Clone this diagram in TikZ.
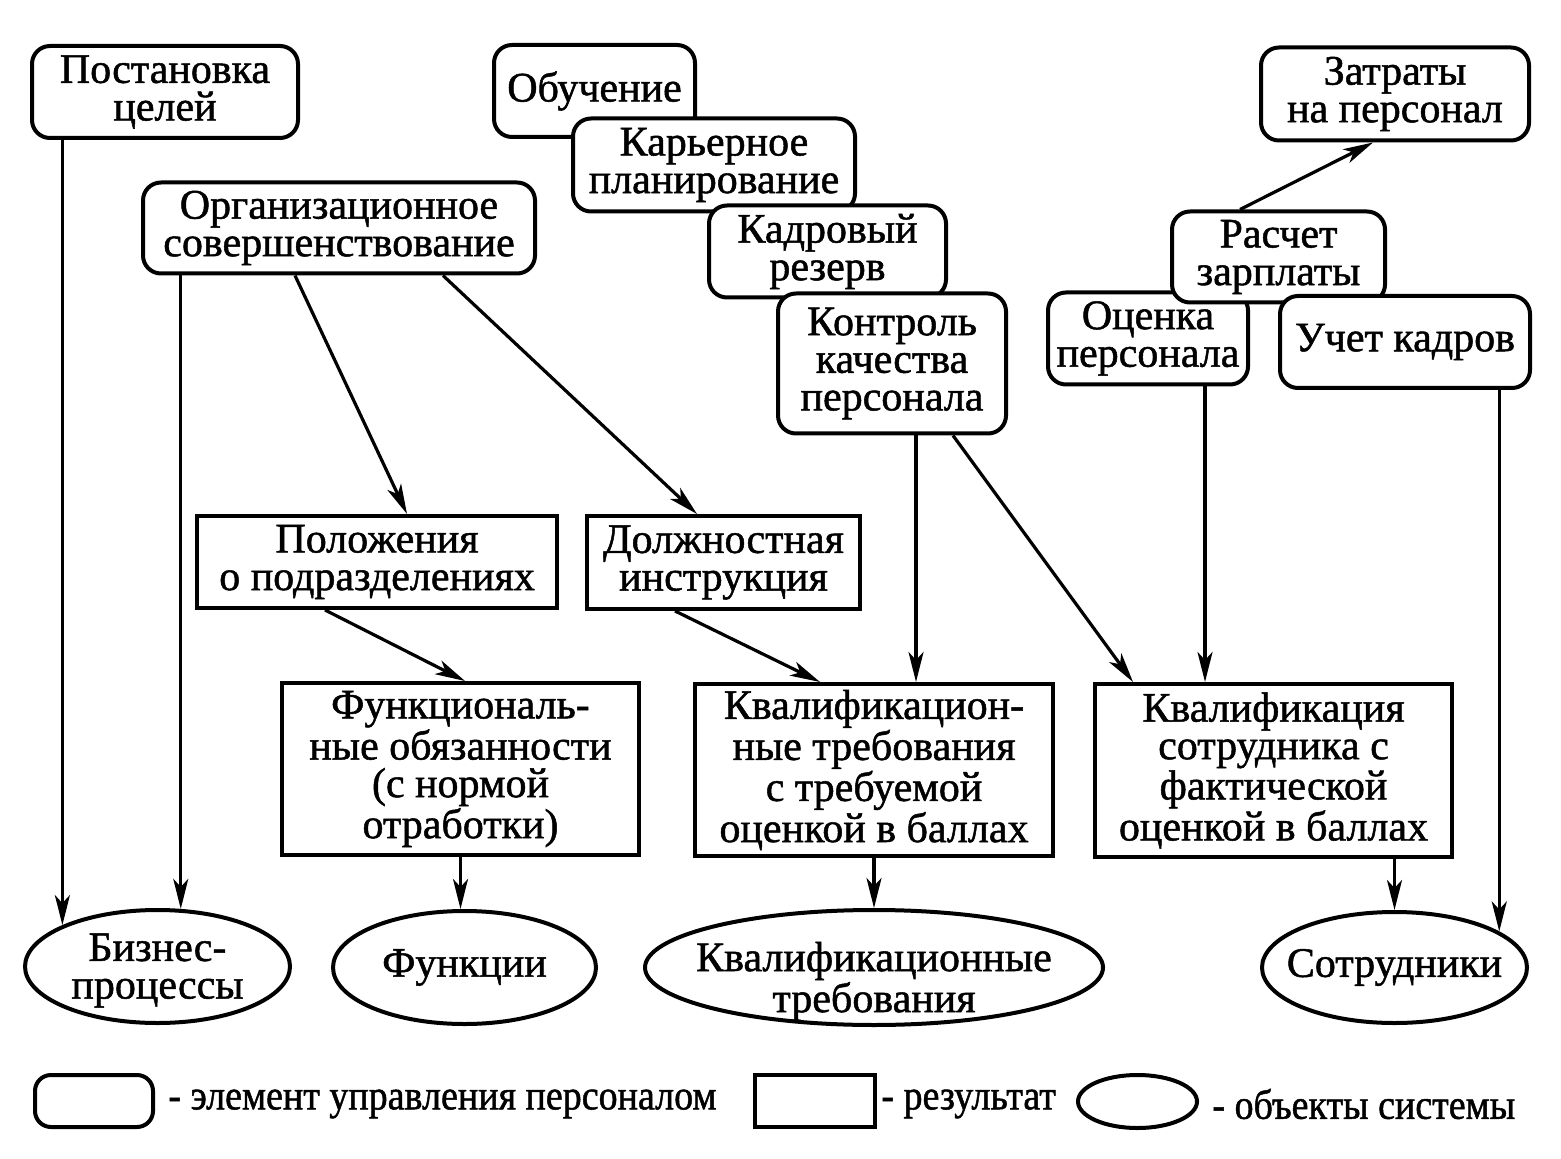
\documentclass[tikz,border=0pt]{standalone}
\usepackage{fontspec}
\setmainfont{Liberation Serif}[FakeBold=1.2]
\usetikzlibrary{arrows.meta,shapes.geometric,calc}
\newcommand\mainsize{\fontsize{21pt}{18.8pt}\selectfont}
\newcommand\legsize{\fontsize{21pt}{22pt}\selectfont}
\newcommand\legtxt[1]{\scalebox{0.905}[1]{#1}}
\tikzset{
  elem/.style={draw, line width=2pt, rounded corners=9pt, fill=white, inner sep=0pt, align=center, font=\mainsize},
  res/.style={draw, line width=2pt, fill=white, inner sep=0pt, align=center, font=\mainsize},
  obj/.style={draw, ellipse, line width=2pt, inner sep=0pt},
  objtext/.style={font=\mainsize, align=center, inner sep=0pt},
  arr/.style={line width=1.6pt, -{Stealth[length=15pt,width=7.5pt,inset=4pt]}},
  legtext/.style={anchor=west, inner sep=0pt, font=\legsize},
}
\begin{document}
\begin{tikzpicture}[x=0.5pt,y=-0.5pt]
\useasboundingbox (0,0) rectangle (1561,1159);

% management elements
\node[elem, minimum width=133pt, minimum height=46pt] (post) at (165,92) {Постановка\\целей};
\node[elem, minimum width=196pt, minimum height=45.5pt] (org) at (339,228) {Организационное\\совершенствование};
\node[elem, minimum width=100.5pt, minimum height=46pt] (obuch) at (594.5,91) {Обучение};
\node[elem, minimum width=141pt, minimum height=46.5pt] (karier) at (714,165) {Карьерное\\планирование};
\node[elem, minimum width=118.5pt, minimum height=46pt] (kadr) at (827.5,251.5) {Кадровый\\резерв};
\node[elem, minimum width=114pt, minimum height=70pt] (kontr) at (892,363.5) {Контроль\\качества\\персонала};
\node[elem, minimum width=134pt, minimum height=46.5pt] (zatr) at (1395,94) {Затраты\\на персонал};
\node[elem, minimum width=100pt, minimum height=46pt] (ocen) at (1148,338.5) {Оценка\\персонала};
\node[elem, minimum width=106.5pt, minimum height=45.5pt] (rasch) at (1278.5,257) {Расчет\\зарплаты};
\node[elem, minimum width=125pt, minimum height=46pt] (uchet) at (1405,342) {Учет кадров};

% results
\node[res, minimum width=180pt, minimum height=46pt] (polozh) at (377,562) {Положения\\о подразделениях};
\node[res, minimum width=136.5pt, minimum height=46.5pt] (dolzh) at (723.5,562.5) {Должностная\\инструкция};
\node[res, minimum width=178.5pt, minimum height=86pt] (func) at (460.5,769) {Функциональ-\\ные обязанности\\(с нормой\\отработки)};
\node[res, minimum width=179pt, minimum height=86pt] (kvtr) at (874,770) {Квалификацион-\\ные требования\\с требуемой\\оценкой в баллах};
\node[res, minimum width=178.5pt, minimum height=86.5pt] (kvsotr) at (1273.5,770.5) {Квалификация\\сотрудника с\\фактической\\оценкой в баллах};

% system objects
\node[obj, minimum width=132.5pt, minimum height=56.5pt, label={[objtext, yshift=-2pt]center:Бизнес-\\процессы}] (biz) at (157.5,966.5) {};
\node[obj, minimum width=131.5pt, minimum height=56.5pt, label={[objtext]center:Функции}] (funk) at (464.5,967.5) {};
\node[obj, minimum width=229pt, minimum height=57.5pt, label={[objtext, yshift=-7pt]center:Квалификационные\\требования}] (kvell) at (874,967.5) {};
\node[obj, minimum width=132.5pt, minimum height=55.5pt, label={[objtext]center:Сотрудники}] (sotr) at (1394.5,967.5) {};

% connectors
\draw[arr] (post.south -| biz.north west) -- (biz.north west);
\draw[arr] (org.south -| biz.68) -- (biz.68);
\draw[arr] ([xshift=-22pt]org.south) -- ([xshift=15pt]polozh.north);
\draw[arr] ([xshift=52pt]org.south) -- ([xshift=-13.25pt]dolzh.north);
\draw[arr] ([xshift=-26pt]polozh.south) -- ([xshift=2.25pt]func.north);
\draw[arr] ([xshift=-24.25pt]dolzh.south) -- ([xshift=-27pt]kvtr.north);
\draw[arr] ([xshift=12pt]kontr.south) -- ([xshift=12pt]kontr.south |- kvtr.north);
\draw[arr] ([xshift=30.5pt]kontr.south) -- ([xshift=-70.25pt]kvsotr.north);
\draw[arr] ([xshift=28.5pt]ocen.south) -- ([xshift=28.5pt]ocen.south |- kvsotr.north);
\draw[arr] (uchet.south -| sotr.19) -- (sotr.19);
\draw[arr] ([xshift=-19.25pt]rasch.north) -- ([xshift=-11pt]zatr.south);
\draw[arr] (func.south) -- (func.south |- funk.north);
\draw[arr] (kvtr.south) -- (kvell.north);
\draw[arr] (kvsotr.south -| sotr.north) -- (sotr.north);

% legend
\node[draw, line width=2pt, rounded corners=8pt, minimum width=59pt, minimum height=26pt, inner sep=0pt] (lelem) at (94,1101) {};
\node[legtext] (telem) at (168,1104) {\legtxt{- элемент управления персоналом}};
\node[draw, line width=2pt, minimum width=60pt, minimum height=26pt, inner sep=0pt] (lres) at (815,1101) {};
\node[legtext] (tres) at (881,1104) {\legtxt{- результат}};
\node[draw, ellipse, line width=2pt, minimum width=59.5pt, minimum height=26.5pt, inner sep=0pt] (lobj) at (1137.5,1101.5) {};
\node[legtext] (tobj) at (1212,1104) {\legtxt{- объекты системы}};
\end{tikzpicture}
\end{document}
